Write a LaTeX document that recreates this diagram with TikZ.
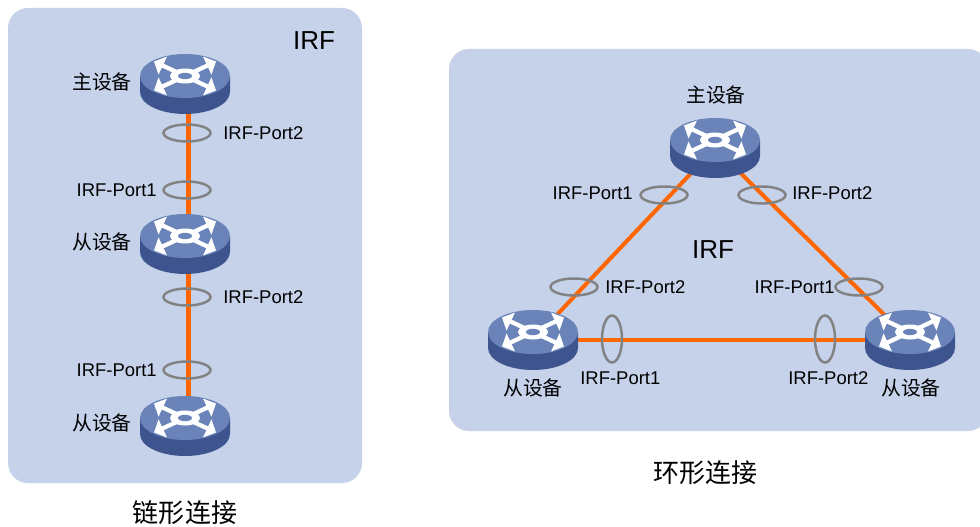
\documentclass[tikz,border=0pt]{standalone}
\usepackage{fontspec}
\setmainfont{Liberation Sans}
\newfontfamily\cjk{Noto Sans CJK SC}
\usepackage{tikz}
\usetikzlibrary{arrows.meta,shapes.geometric}
\definecolor{irfpanel}{RGB}{197,210,234}
\definecolor{swtop}{RGB}{106,132,186}
\definecolor{swside}{RGB}{62,84,142}
\definecolor{linkorange}{RGB}{255,102,0}
\definecolor{ringgray}{RGB}{130,130,130}
\tikzstyle{link} = [line width=2.3pt,color=linkorange]

\begin{document}
\begin{tikzpicture}[x=0.02cm, y=-0.02cm,
    panel/.style={fill=irfpanel, rounded corners=0.4cm},
    dev/.style={inner sep=0pt, minimum size=0pt},
    ring/.style={ellipse, draw=ringgray, line width=1.4pt, minimum width=0.94cm, minimum height=0.34cm, inner sep=0pt},
    vring/.style={ring, minimum width=0.4cm, minimum height=0.94cm},
    port/.style={inner sep=0pt, font=\fontsize{10.5}{12}\selectfont},
    devname/.style={inner sep=0pt, font=\cjk\fontsize{11.3}{13}\selectfont},
    title/.style={inner sep=0pt, font=\fontsize{14.8}{17}\selectfont},
    caption/.style={inner sep=0pt, font=\cjk\fontsize{14.8}{17}\selectfont},
    swarrow/.style={white, line width=2.4pt, -{Triangle[width=11pt,length=5.5pt]}},
    switch/.pic={
      \fill[swside] (-45,-8) -- (-45,8) arc[start angle=180, end angle=0, x radius=45, y radius=22] -- (45,-8) -- cycle;
      \fill[swtop] (0,-8) ellipse[x radius=45, y radius=22];
      \foreach \sx/\sy in {-1/-1,1/-1,-1/1,1/1}
        \draw[swarrow] (0,-8) -- (\sx*31,-8+\sy*14.5);
      \fill[white] (0,-8) ellipse[x radius=15, y radius=7.5];
      \fill[swtop] (0,-8) ellipse[x radius=7, y radius=3.2];
    }]

\useasboundingbox (0,0) rectangle (980,527);

% Panels
\fill[panel] (8,8) rectangle (362,483);
\fill[panel] (449,49) rectangle (988,431);

% Chain: devices
\node[dev] (lmaster) at (185,84) {};
\node[dev] (lslave1) at (185,244) {};
\node[dev] (lslave2) at (185,426) {};

% Ring: devices
\node[dev] (rmaster) at (715,148) {};
\node[dev] (rslave1) at (533,340) {};
\node[dev] (rslave2) at (910,340) {};

% Links
\draw[link] ([xshift=2] lmaster.center) -- ([xshift=2] lslave2.center);
\draw[link] (rmaster) -- (rslave1);
\draw[link] (rmaster) -- (rslave2);
\draw[link] (rslave1) -- (rslave2);

% Switch icons
\pic at (lmaster) {switch};
\pic at (lslave1) {switch};
\pic at (lslave2) {switch};
\pic at (rmaster) {switch};
\pic at (rslave1) {switch};
\pic at (rslave2) {switch};

% Chain: ports
\node[ring] (lring1) at (187,133) {};
\node[ring] (lring2) at (187,190) {};
\node[ring] (lring3) at (187,297) {};
\node[ring] (lring4) at (187,370) {};
\node[port, anchor=west] (lport1) at (223,133) {IRF-Port2};
\node[port, anchor=east] (lport2) at (157,190) {IRF-Port1};
\node[port, anchor=west] (lport3) at (223,297) {IRF-Port2};
\node[port, anchor=east] (lport4) at (157,370) {IRF-Port1};

% Ring: ports
\node[ring] (rring1) at (664,195) {};
\node[ring] (rring2) at (762,195) {};
\node[ring] (rring3) at (574,287) {};
\node[ring] (rring4) at (859,287) {};
\node[vring] (rring5) at (612,339) {};
\node[vring] (rring6) at (825,339) {};
\node[port, anchor=east] (rport1) at (633,193) {IRF-Port1};
\node[port, anchor=west] (rport2) at (792,193) {IRF-Port2};
\node[port, anchor=west] (rport3) at (605,287) {IRF-Port2};
\node[port, anchor=east] (rport4) at (835,287) {IRF-Port1};
\node[port, anchor=west] (rport5) at (580,378) {IRF-Port1};
\node[port, anchor=west] (rport6) at (788,378) {IRF-Port2};

% Device names
\node[devname] (lmname) at (102,82) {主设备};
\node[devname] (ls1name) at (102,242) {从设备};
\node[devname] (ls2name) at (102,423) {从设备};
\node[devname] (rmname) at (716,95) {主设备};
\node[devname] (rs1name) at (533,388) {从设备};
\node[devname] (rs2name) at (911,388) {从设备};

% Titles
\node[title] (lirf) at (314,41) {IRF};
\node[title] (rirf) at (713,250) {IRF};
\node[caption] (lcap) at (185,513) {链形连接};
\node[caption] (rcap) at (705,473) {环形连接};

\end{tikzpicture}
\end{document}
